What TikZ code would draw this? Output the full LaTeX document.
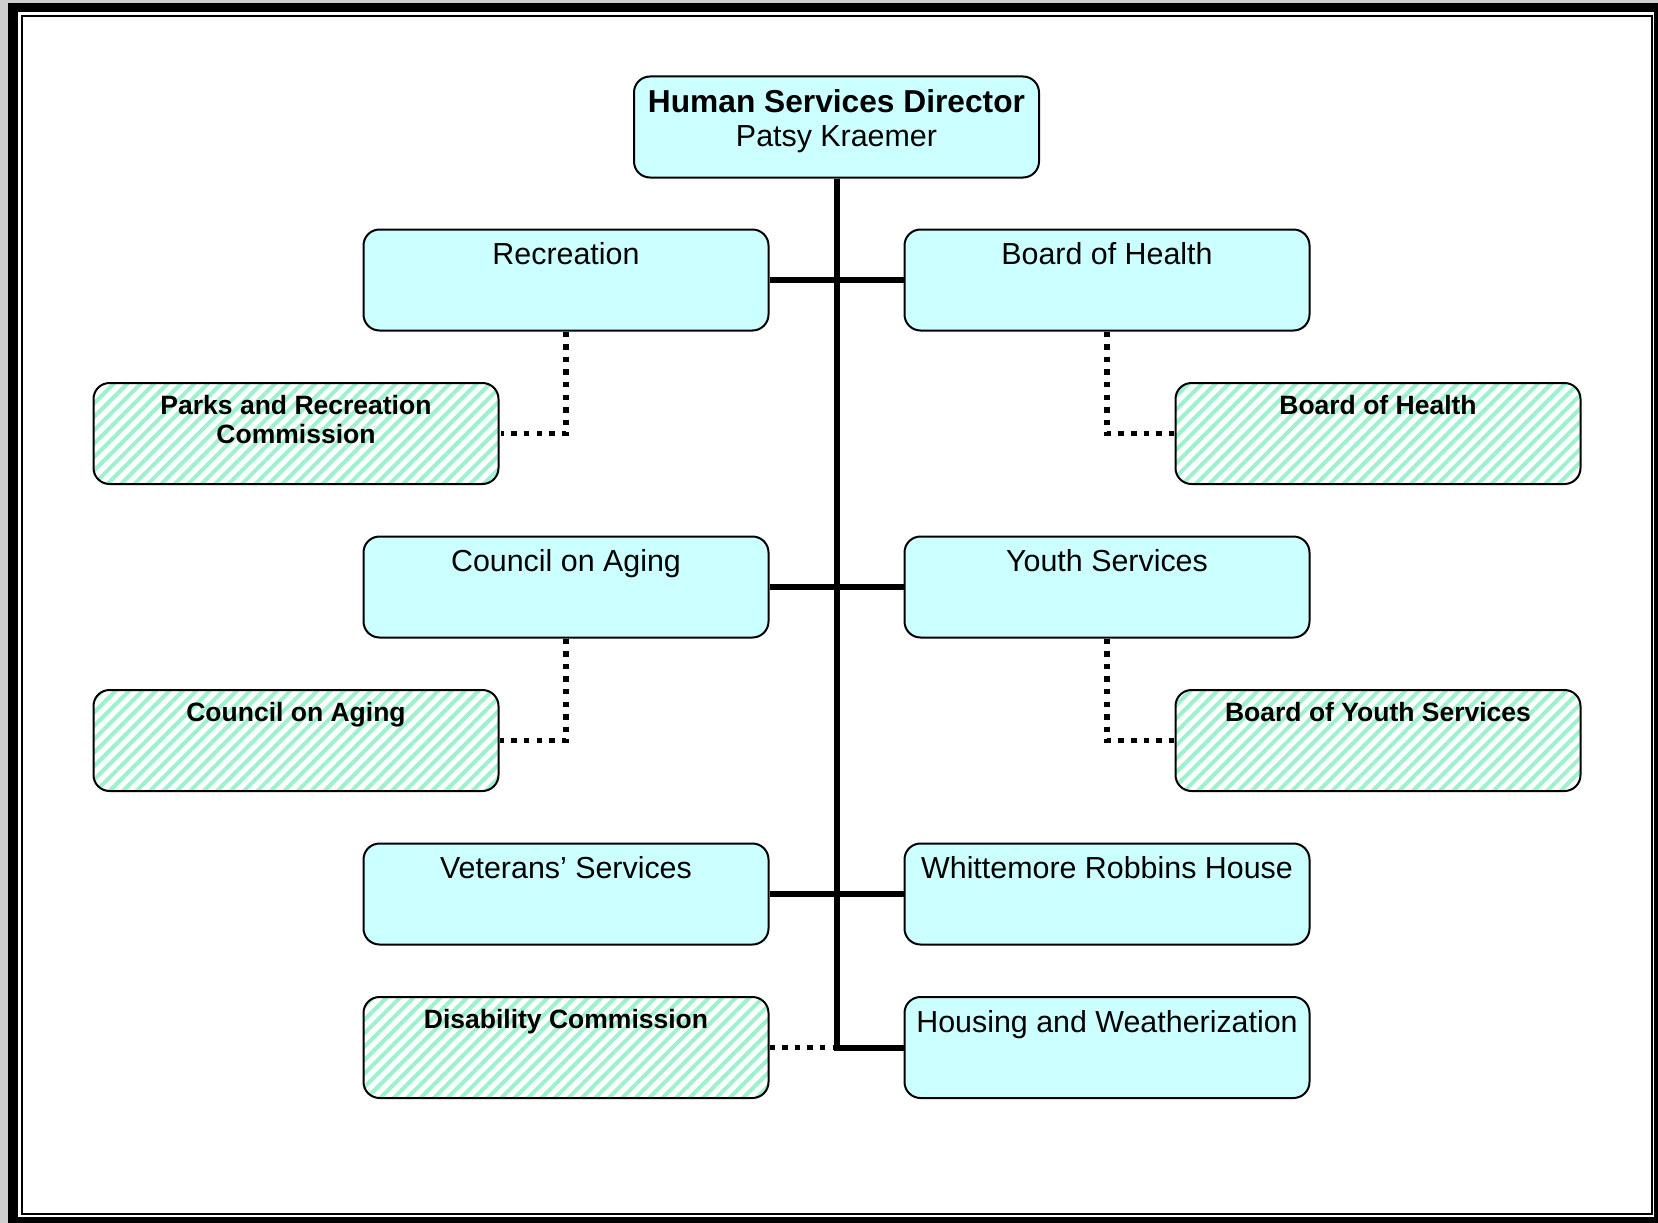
\documentclass[tikz,border=0pt]{standalone}
\usepackage{fontspec}
\setmainfont{Liberation Sans}
\usetikzlibrary{patterns.meta}
\definecolor{boxcyan}{RGB}{204,255,255}
\definecolor{hatchgreen}{RGB}{155,242,205}
\definecolor{bggray}{RGB}{207,207,207}
\begin{document}
\begin{tikzpicture}[x=1pt,y=-1pt,
  box/.style={draw=black, line width=2pt, rounded corners=16pt, fill=boxcyan,
    minimum width=405pt, minimum height=101pt, inner sep=0pt},
  hbox/.style={draw=black, line width=2pt, rounded corners=16pt, preaction={fill=white},
    pattern={Lines[angle=45,distance=9.5pt,line width=4pt]}, pattern color=hatchgreen,
    minimum width=405pt, minimum height=101pt, inner sep=0pt},
  lbl/.style={anchor=base, inner sep=0pt, font=\fontsize{30.4}{33}\selectfont},
  tlbl/.style={anchor=base, inner sep=0pt, font=\fontsize{31.7}{33}\selectfont\bfseries},
  hlbl/.style={anchor=base, inner sep=0pt, align=center, font=\fontsize{26.5}{29}\selectfont\bfseries},
  trunk/.style={line width=6pt},
  dots/.style={line width=5.5pt, dash pattern=on 5.5pt off 7.1pt}]
\useasboundingbox (0,0) rectangle (1658,1223);
% frame
\fill[bggray] (0,0) rectangle (1658,1223);
\fill[white] (17,12) rectangle (1655,1217);
\draw[line width=9.5pt] (12.85,7.65) rectangle (1658.75,1221.75);
\draw[line width=2pt] (21.7,16.5) rectangle (1651.7,1214.3);
% boxes
\node[box] (dir) at (836.5,127) {};
\node[tlbl] at ([yshift=-37pt]dir.north) {Human Services Director};
\node[lbl] at ([yshift=-71pt]dir.north) {Patsy Kraemer};

\node[box] (rec) at (566,280) {};
\node[box] (boh) at (1107,280) {};
\node[hbox] (prc) at (296,433.5) {};
\node[hbox] (bohc) at (1378,433.5) {};
\node[box] (coa) at (566,587) {};
\node[box] (ys) at (1107,587) {};
\node[hbox] (coac) at (296,740.5) {};
\node[hbox] (bys) at (1378,740.5) {};
\node[box] (vet) at (566,894) {};
\node[box] (wrh) at (1107,894) {};
\node[hbox] (dis) at (566,1047.5) {};
\node[box] (hou) at (1107,1047.5) {};

\node[lbl] at ([yshift=-36pt]rec.north) {Recreation};
\node[lbl] at ([yshift=-36pt]boh.north) {Board of Health};
\node[lbl] at ([yshift=-36pt]coa.north) {Council on Aging};
\node[lbl] at ([yshift=-36pt]ys.north) {Youth Services};
\node[lbl] at ([yshift=-36pt]vet.north) {Veterans’ Services};
\node[lbl] at ([yshift=-36pt]wrh.north) {Whittemore Robbins House};
\node[lbl] at ([yshift=-36pt]hou.north) {Housing and Weatherization};

\node[hlbl] at ([yshift=-62pt]prc.north) {Parks and Recreation\\Commission};
\node[hlbl] at ([yshift=-32pt]bohc.north) {Board of Health};
\node[hlbl] at ([yshift=-32pt]coac.north) {Council on Aging};
\node[hlbl] at ([yshift=-32pt]bys.north) {Board of Youth Services};
\node[hlbl] at ([yshift=-32pt]dis.north) {Disability Commission};

% connectors
\coordinate (tend) at (dir.south |- hou.west);
\draw[trunk] (dir.south) -- (tend) -- (hou.west);
\draw[trunk] (rec.east) -- (boh.west);
\draw[trunk] (coa.east) -- (ys.west);
\draw[trunk] (vet.east) -- (wrh.west);
\draw[dots] (dis.east) -- (tend);
\draw[dots] (rec.south) |- (prc.east);
\draw[dots] (boh.south) |- (bohc.west);
\draw[dots] (coa.south) |- (coac.east);
\draw[dots] (ys.south) |- (bys.west);
\end{tikzpicture}
\end{document}
